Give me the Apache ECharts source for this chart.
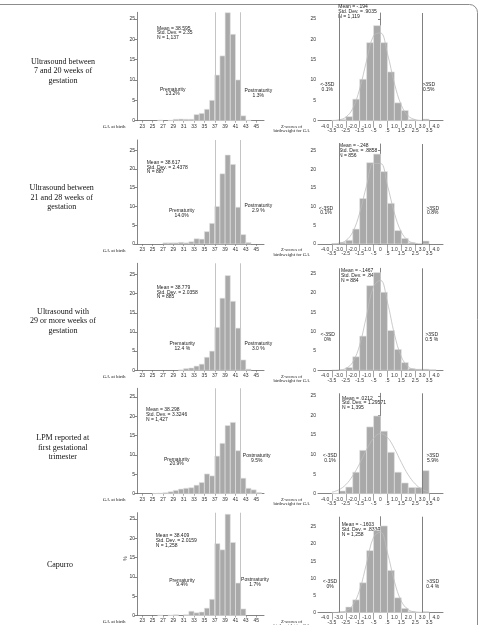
<!DOCTYPE html>
<html>
<head>
<meta charset="utf-8">
<script src="https://cdn.jsdelivr.net/npm/echarts@6/dist/echarts.min.js"></script>
<style>html,body{margin:0;padding:0;background:#fff}#main{width:480px;height:625px}</style>
</head>
<body>
<div id="main"></div>
<script>
// gestational age bins (weeks, bin = [w, w+1))
var gaWeeks = [22,23,24,25,26,27,28,29,30,31,32,33,34,35,36,37,38,39,40,41,42,43,44,45];
var gaUs7to20  = [0,0,0,0,0.15,0,0.1,0.35,0.4,0.35,0.35,1.5,1.8,2.8,5.0,11.2,15.9,26.5,21.2,10.0,1.2,0.1,0,0];
var gaUs21to28 = [0,0,0,0,0,0.3,0.3,0.3,0.45,0.3,0.6,1.4,1.3,3.3,5.5,10.0,18.7,23.7,21.2,9.8,2.5,0.4,0,0];
var gaUs29plus = [0,0,0,0,0,0,0,0,0.1,0.45,0.6,1.1,1.6,3.4,5.0,11.2,18.8,24.7,18.0,11.0,2.7,0.3,0,0];
var gaLpm      = [0,0,0,0.1,0.15,0.25,0.5,0.85,1.2,1.4,1.55,2.2,2.9,5.1,4.6,9.7,13.0,17.6,18.4,11.1,4.0,1.4,1.0,0.3];
var gaCapurro  = [0,0,0,0,0.1,0,0.1,0.2,0,0.2,1.1,0.7,0.9,1.9,4.2,18.6,17.0,26.2,18.9,8.4,1.7,0,0,0];

// z-score bins (bin = [z, z+0.5))
var zBins = [-4.5,-4,-3.5,-3,-2.5,-2,-1.5,-1,-0.5,0,0.5,1,1.5,2,2.5,3,3.5,4];
var zUs7to20  = [0,0,0.1,0.3,1.0,5.3,10.2,19.2,23.4,19.2,12.0,4.4,2.5,0.3,0.1,0.4,0,0];
var zUs21to28 = [0,0,0.1,0.45,1.0,4.0,12.2,21.8,24.1,19.4,10.9,3.6,1.5,0.35,0,0.8,0,0];
var zUs29plus = [0,0,0,0.1,0.7,3.5,8.85,21.9,25.3,20.2,10.3,5.4,2.0,0.45,0.3,0.3,0.2,0];
var zLpm      = [0,0,0.1,0.7,1.7,5.5,11.1,17.1,19.9,16.0,10.6,5.5,2.75,1.6,1.6,5.9,0,0];
var zCapurro  = [0,0,0,0.3,1.6,3.7,8.7,18.1,24.0,25.3,12.3,4.3,1.2,0.3,0.1,0.3,0,0];

// normal curves
var zCurveX = [-3.5,-3,-2.5,-2,-1.5,-1,-0.5,0,0.5,1,1.5,2,2.5,3,3.5];
var curveUs7to20  = [0.02,0.2,0.85,3.0,7.8,14.8,20.9,21.6,16.5,9.2,3.8,1.15,0.26,0.04,0];
var curveUs21to28 = [0.02,0.18,0.89,3.2,8.3,15.7,21.6,21.6,15.7,8.3,3.2,0.9,0.18,0.03,0];
var curveUs29plus = [0.01,0.07,0.47,2.1,6.5,14.2,21.7,23.3,17.6,9.4,3.5,0.9,0.17,0.02,0];
var curveLpm      = [0.38,1.0,2.3,4.6,7.7,11.3,14.2,15.4,14.4,11.6,8.0,4.8,2.5,1.1,0.42];
var curveCapurro  = [0.01,0.07,0.46,2.1,6.6,14.4,22.0,23.5,17.5,9.1,3.3,0.83,0.15,0.02,0];

var yTicks = [0,5,10,15,20,25];
var gaTicks = [23,25,27,29,31,33,35,37,39,41,43,45];
var zWholeTicks = [-4,-3,-2,-1,0,1,2,3,4];
var zHalfTicks = [-3.5,-2.5,-1.5,-0.5,0.5,1.5,2.5,3.5];
var gaCuts = [37,42];
var zCuts = [-3,3];

var rowTitles = ['Ultrasound between\n7 and 20 weeks of\ngestation',
  'Ultrasound between\n21 and 28 weeks of\ngestation',
  'Ultrasound with\n29 or more weeks of\ngestation',
  'LPM reported at\nfirst gestational\ntrimester',
  'Capurro'];
var gaStats = ['Mean = 38.595\nStd. Dev. = 2.35\nN = 1,137',
  'Mean = 38.617\nStd. Dev. = 2.4378\nN = 887',
  'Mean = 38.779\nStd. Dev. = 2.0358\nN = 885',
  'Mean = 38.298\nStd. Dev. = 3.3246\nN = 1,427',
  'Mean = 38.409\nStd. Dev. = 2.0159\nN = 1,258'];
var zStats = ['Mean = -.194\nStd. Dev. = .9035\nN = 1,119',
  'Mean = -.248\nStd. Dev. = .8858\nN = 856',
  'Mean = -.1467\nStd. Dev. = .8408\nN = 884',
  'Mean = .0212\nStd. Dev. = 1.29571\nN = 1,395',
  'Mean = -.1603\nStd. Dev. = .83345\nN = 1,258'];
var preTerm = ['13.2%','14.0%','12.4 %','20.9%','9.4%'];
var postTerm = ['1.3%','2.9 %','3.0 %','9.5%','1.7%'];
var lowSD = ['0.1%','0.1%','0%','0.1%','0%'];
var highSD = ['0.5%','0.8%','0.5 %','5.9%','0.4 %'];

var gaSets = [gaUs7to20, gaUs21to28, gaUs29plus, gaLpm, gaCapurro];
var zSets = [zUs7to20, zUs21to28, zUs29plus, zLpm, zCapurro];
var curveSets = [curveUs7to20, curveUs21to28, curveUs29plus, curveLpm, curveCapurro];

// layout of each row (pixels)
var rows = [
  {base: 120.7, lTop: 12.3, lMax: 26.6, rTop: 13, rMax: 26.5, title: [63, 61.7], gs: [157, 28.3], zs: [338.3, 7], pre: [172.7, 89.3], post: [258.3, 91], lo: [327.3, 85], hi: [428.7, 85]},
  {base: 244, lTop: 140, lMax: 27.7, rTop: 144, rMax: 26.8, title: [61.7, 188.3], gs: [146.7, 162.7], zs: [339, 146], pre: [181.7, 210.7], post: [258.3, 206], lo: [326, 208.3], hi: [432.7, 208.3]},
  {base: 370.3, lTop: 263.3, lMax: 27.9, rTop: 268.3, rMax: 26.4, title: [63, 311.7], gs: [156.7, 287.7], zs: [341, 271], pre: [182.3, 344], post: [258.3, 343.7], lo: [327.7, 335], hi: [431.7, 335]},
  {base: 493.7, lTop: 388.3, lMax: 27.2, rTop: 393.3, rMax: 25.7, title: [62.7, 438.3], gs: [146, 410], zs: [342, 398.3], pre: [176.7, 459.3], post: [256.7, 456], lo: [330, 456], hi: [432.7, 456]},
  {base: 615.5, lTop: 512.7, lMax: 26.6, rTop: 516.7, rMax: 28, title: [60, 565.3], gs: [155.7, 536], zs: [341.7, 525], pre: [182, 580.3], post: [255, 580], lo: [330, 581.7], hi: [432.7, 581.7]}
];

var SANS = 'Liberation Sans, Arial, sans-serif';
var SERIF = 'Liberation Serif, Times New Roman, serif';
var AXIS = '#666';

function binRect(w) {
  return function (params, api) {
    var x0 = api.value(0), v = api.value(1);
    if (!(v > 0)) return null;
    var p0 = api.coord([x0, v]);
    var p1 = api.coord([x0 + w, 0]);
    return {
      type: 'rect',
      shape: {x: p0[0], y: p0[1], width: p1[0] - p0[0], height: p1[1] - p0[1]},
      style: {fill: '#a9a9a9', stroke: '#e4e4e4', lineWidth: 0.6}
    };
  };
}

function zFmt(v) {
  if (Math.abs(v) < 1e-9) return '0';
  return Number.isInteger(v) ? v.toFixed(1) : String(v).replace('0.', '.');
}

function yAxisOf(gi, max) {
  return {
    gridIndex: gi, type: 'value', min: 0, max: max, splitLine: {show: false},
    axisLine: {show: true, lineStyle: {color: AXIS, width: 0.8}},
    axisTick: {show: true, length: 2.5, customValues: yTicks, lineStyle: {color: AXIS, width: 0.8}},
    axisLabel: {customValues: yTicks, fontSize: 5, margin: 2, color: '#333', fontFamily: SANS}
  };
}

var grids = [], xAxes = [], yAxes = [], series = [], graphics = [];

function txt(x, y, text, o) {
  o = o || {};
  var fs = o.size || 5, lh = o.lh || 4.6;
  graphics.push({
    type: 'text', x: x, y: y - lh / 2, rotation: o.rot || 0, silent: true,
    style: {
      text: text, fontSize: fs, fontFamily: o.font || SANS, fill: o.color || '#222',
      lineHeight: lh, align: o.align || 'center', verticalAlign: 'top',
      textAlign: o.align || 'center', textVerticalAlign: 'top'
    }
  });
}

rows.forEach(function (r, i) {
  var gl = i * 2, gr = i * 2 + 1;
  grids.push({left: 137, width: 127, top: r.lTop, height: r.base - r.lTop, containLabel: false});
  grids.push({left: 318, width: 125, top: r.rTop, height: r.base - r.rTop, containLabel: false});

  var xl = xAxes.length;
  xAxes.push({
    gridIndex: gl, type: 'value', min: 22, max: 46.5, splitLine: {show: false},
    axisLine: {show: true, onZero: false, lineStyle: {color: AXIS, width: 0.8}},
    axisTick: {show: true, length: 2, customValues: gaTicks, lineStyle: {color: AXIS, width: 0.6}},
    axisLabel: {customValues: gaTicks, fontSize: 5, margin: 3, color: '#333', fontFamily: SANS,
      showMinLabel: true, showMaxLabel: true}
  });
  var xr = xAxes.length;
  xAxes.push({
    gridIndex: gr, type: 'value', min: -4.5, max: 4.5, splitLine: {show: false},
    axisLine: {show: true, onZero: false, lineStyle: {color: AXIS, width: 0.8}},
    axisTick: {show: true, length: 7, customValues: zHalfTicks, lineStyle: {color: AXIS, width: 0.6}},
    axisLabel: {customValues: zWholeTicks, fontSize: 5, margin: 3, color: '#333', fontFamily: SANS,
      formatter: zFmt, showMinLabel: true, showMaxLabel: true}
  });
  // second row of labels (half values) on the same grid
  xAxes.push({
    gridIndex: gr, type: 'value', min: -4.5, max: 4.5, position: 'bottom', splitLine: {show: false},
    axisLine: {show: false, onZero: false}, axisTick: {show: false},
    axisLabel: {customValues: zHalfTicks, fontSize: 5, margin: 7.5, color: '#333', fontFamily: SANS,
      formatter: zFmt, showMinLabel: true, showMaxLabel: true}
  });
  yAxes.push(yAxisOf(gl, r.lMax));
  yAxes.push(yAxisOf(gr, r.rMax));

  series.push({
    type: 'custom', xAxisIndex: xl, yAxisIndex: gl, renderItem: binRect(1), encode: {x: 0, y: 1},
    data: gaWeeks.map(function (w, k) { return [w, gaSets[i][k]]; }),
    markLine: {silent: true, symbol: ['none', 'none'], label: {show: false},
      lineStyle: {color: '#c4c4c4', width: 1, type: 'solid'},
      data: gaCuts.map(function (c) { return {xAxis: c}; })}
  });
  series.push({
    type: 'custom', xAxisIndex: xr, yAxisIndex: gr, renderItem: binRect(0.5), encode: {x: 0, y: 1},
    data: zBins.map(function (z, k) { return [z, zSets[i][k]]; }),
    markLine: {silent: true, symbol: ['none', 'none'], label: {show: false},
      lineStyle: {color: '#808080', width: 1, type: 'solid'},
      data: zCuts.map(function (c) { return {xAxis: c}; })}
  });
  series.push({
    type: 'line', xAxisIndex: xr, yAxisIndex: gr, smooth: 0.4, showSymbol: false, silent: true, z: 3,
    lineStyle: {color: '#bcbcbc', width: 0.8},
    data: zCurveX.map(function (x, k) { return [x, curveSets[i][k]]; })
  });

  txt(r.title[0], r.title[1], rowTitles[i], {size: 8, lh: 9.5, font: SERIF, color: '#111'});
  txt(r.gs[0], r.gs[1], gaStats[i], {align: 'left'});
  txt(r.zs[0], r.zs[1], zStats[i], {align: 'left'});
  txt(r.pre[0], r.pre[1], 'Prematurity\n' + preTerm[i]);
  txt(r.post[0], r.post[1], 'Postmaturity\n' + postTerm[i]);
  txt(r.lo[0], r.lo[1], '<-3SD\n' + lowSD[i]);
  txt(r.hi[0], r.hi[1], '>3SD\n' + highSD[i]);
  txt(125.5, r.base + 6.3, 'GA at birth', {align: 'right', font: SERIF, size: 5});
  txt(291.5, r.base + 6, 'Z-scores of\nbirthweight for GA', {font: SERIF, size: 4.7, lh: 4.5});
});

txt(123.3, 561, '%', {rot: Math.PI / 2, lh: 5});
graphics.push({type: 'rect', silent: true, z: -1, shape: {x: -20, y: 4.5, width: 497.5, height: 700, r: 8},
  style: {fill: 'none', stroke: '#8c8c8c', lineWidth: 1}});

var myChart = echarts.init(document.getElementById('main'));
var option = {
  animation: false,
  backgroundColor: '#fff',
  grid: grids,
  xAxis: xAxes,
  yAxis: yAxes,
  series: series,
  graphic: {elements: graphics}
};
myChart.setOption(option);
</script>
</body>
</html>
